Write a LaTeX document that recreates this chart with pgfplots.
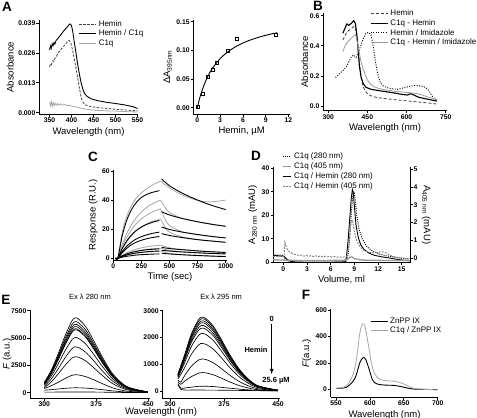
\documentclass[border=0pt]{standalone}
\usepackage{pgfplots}
\pgfplotsset{compat=1.18}
\usepackage{fontspec}
\setmainfont{Liberation Sans}
\pgfplotsset{
 pan/.style={scale only axis, axis x line*=bottom, axis y line*=left,
  axis line style={line width=0.8pt,-}, tick align=outside, major tick length=2.5pt,
  every tick/.style={black,line width=0.7pt},
  ticklabel style={font=\fontsize{6.8}{7}\selectfont\bfseries, inner sep=1pt},
  label style={font=\fontsize{9.5}{10}\selectfont},
  /pgf/number format/assume math mode=true, scaled ticks=false,
  /pgf/number format/1000 sep={},
  legend style={draw=none, fill=none, font=\fontsize{8}{9}\selectfont, inner sep=0pt, row sep=-1.5pt},
  legend cell align=left},
 blk/.style={black, line width=0.9pt},
 gry/.style={black!35, line width=0.8pt},
 emis/.style={every axis plot post/.append style={black, solid, mark=none, line width=0.65pt, smooth}},
}
\begin{document}
\begin{tikzpicture}
\useasboundingbox (0,0) rectangle (477pt,-418pt);
% ---------------- A left
\begin{axis}[pan, at={(39pt,-114.3pt)}, anchor=south west, width=99pt, height=94.3pt,
 xmin=326, xmax=551, ymin=-0.0007, ymax=0.0403,
 xtick={350,400,450,500,550}, xticklabels={350,400,450,500,550},
 ytick={0,0.013,0.026,0.039}, yticklabels={0.000,0.013,0.026,0.039},
 xlabel={Wavelength (nm)}, ylabel={Absorbance},
 legend style={at={(0.40,1.02)}, anchor=north west}]
\addplot[black!75, line width=0.8pt, dash pattern=on 2.5pt off 1.5pt] coordinates {
(350,0.0200)(352,0.0212)(354,0.0208)(357,0.0226)(360,0.0222)(363,0.0240)(366,0.0246)(370,0.0262)(375,0.0272)(380,0.0285)(385,0.0295)(390,0.0308)(394,0.0315)(398,0.0305)(402,0.0275)(406,0.0235)(410,0.0195)(414,0.0150)(418,0.0105)(422,0.0065)(426,0.0045)(430,0.0035)(440,0.0028)(460,0.0022)(500,0.0015)(550,0.0008)};
\addlegendentry{Hemin}
\addplot[blk] coordinates {
(350,0.0272)(352,0.0290)(354,0.0280)(356,0.0300)(358,0.0292)(360,0.0305)(362,0.0298)(365,0.0315)(368,0.0320)(372,0.0330)(376,0.0340)(380,0.0350)(385,0.0362)(390,0.0372)(394,0.0382)(397,0.0386)(400,0.0378)(403,0.0350)(406,0.0310)(410,0.0260)(414,0.0210)(418,0.0165)(422,0.0128)(426,0.0100)(430,0.0082)(436,0.0070)(445,0.0060)(460,0.0052)(480,0.0045)(500,0.0040)(520,0.0034)(540,0.0026)(550,0.0018)};
\addlegendentry{Hemin / C1q}
\addplot[gry] coordinates {
(350,0.0045)(352,0.0030)(354,0.0048)(356,0.0028)(358,0.0044)(360,0.0030)(362,0.0042)(365,0.0032)(368,0.0040)(371,0.0033)(375,0.0038)(380,0.0033)(385,0.0035)(390,0.0031)(395,0.0032)(400,0.0029)(410,0.0025)(420,0.0020)(430,0.0016)(440,0.0013)(460,0.0010)(480,0.0008)(500,0.0007)(520,0.0005)(550,0.0003)};
\addlegendentry{C1q}
\end{axis}
% ---------------- A right
\begin{axis}[pan, at={(193.3pt,-114pt)}, anchor=south west, width=96.7pt, height=94pt,
 xmin=-0.53, xmax=12.2, ymin=-0.011, ymax=0.153,
 xtick={0,3,6,9,12}, xticklabels={0,3,6,9,12},
 ytick={0,0.05,0.1,0.15}, yticklabels={0.00,0.05,0.10,0.15},
 xlabel={Hemin, µM}, ylabel={ΔA\textsubscript{395nm}}]
\addplot[blk, smooth] coordinates {(0,0)(0.25,0.0135)(0.5,0.0250)(1,0.0435)(1.5,0.0577)(2,0.0689)(3,0.0856)(4,0.0973)(5,0.1061)(6,0.1129)(7,0.1182)(8,0.1226)(9,0.1263)(10,0.1294)(10.5,0.1307)};
\addplot[only marks, mark=square, mark size=1.5pt, mark options={black, fill=white, line width=0.6pt}] coordinates {
(0,0.001)(0.66,0.024)(1.32,0.054)(2.03,0.066)(2.6,0.078)(4.0,0.100)(5.2,0.120)(10.3,0.127)};
\end{axis}
% ---------------- B
\begin{axis}[pan, at={(323pt,-110.7pt)}, anchor=south west, width=124pt, height=97.4pt,
 xmin=280, xmax=755, ymin=-0.031, ymax=0.616,
 xtick={300,450,600,750}, xticklabels={300,450,600,750},
 ytick={0,0.2,0.4,0.6}, yticklabels={0.0,0.2,0.4,0.6},
 xlabel={Wavelength (nm)}, ylabel={Absorbance}, ylabel shift=-3pt,
 legend style={at={(0.38,1.06)}, anchor=north west}]
\addplot[black!75, line width=0.8pt, dash pattern=on 3pt off 2pt, smooth] coordinates {
(356,0.438)(369,0.483)(381,0.505)(394,0.522)(402,0.527)(409,0.460)(417,0.328)(426,0.195)(435,0.124)(451,0.080)(483,0.058)(546,0.044)(609,0.033)(673,0.022)(717,0.013)};
\addlegendentry{Hemin}
\addplot[black, line width=1.1pt] coordinates {
(356,0.483)(364,0.516)(371,0.545)(379,0.536)(388,0.549)(398,0.567)(404,0.549)(409,0.483)(414,0.394)(419,0.272)(426,0.190)(435,0.146)(445,0.124)(464,0.111)(495,0.102)(546,0.089)(584,0.077)(603,0.073)(616,0.082)(628,0.073)(647,0.058)(685,0.044)(717,0.033)};
\addlegendentry{C1q - Hemin}
\addplot[black, line width=0.9pt, dash pattern=on 1pt off 1.5pt] coordinates {
(328,0.190)(343,0.213)(356,0.235)(369,0.261)(379,0.295)(388,0.323)(397,0.339)(407,0.323)(419,0.372)(432,0.438)(444,0.483)(455,0.489)(464,0.472)(473,0.394)(480,0.306)(489,0.217)(498,0.162)(511,0.133)(534,0.117)(565,0.111)(597,0.124)(616,0.133)(635,0.137)(654,0.133)(673,0.124)(686,0.102)(701,0.058)(717,0.035)};
\addlegendentry{Hemin / Imidazole}
\addplot[black!40, line width=0.8pt, smooth] coordinates {
(356,0.361)(366,0.405)(375,0.427)(388,0.449)(397,0.465)(404,0.472)(410,0.438)(417,0.372)(426,0.294)(435,0.239)(445,0.195)(457,0.155)(476,0.128)(508,0.111)(559,0.097)(609,0.089)(647,0.080)(685,0.058)(717,0.044)};
\addlegendentry{C1q - Hemin / Imidazole}
\end{axis}
% ---------------- C
\begin{axis}[pan, at={(113.3pt,-260pt)}, anchor=south west, width=113.4pt, height=90pt,
 xmin=0, xmax=1009, ymin=-1.17, ymax=60.7,
 xtick={0,250,500,750,1000}, xticklabels={0,250,500,750,1000},
 ytick={0,20,40,60}, yticklabels={0,20,40,60},
 xlabel={Time (sec)}, ylabel={Response (R.U.)}]
% gray fits
\addplot[gry, smooth] coordinates {(20,0)(40,0)(80,18)(120,29)(160,36)(200,41)(250,45)(300,48)(350,50.5)(420,53)};
\addplot[gry, smooth] coordinates {(420,53)(500,48.5)(600,44)(700,41)(800,39)(900,39)(1000,40)};
\addplot[gry, smooth] coordinates {(20,0)(40,0)(80,9.5)(120,17)(160,22.8)(200,27.5)(250,31.9)(300,35.2)(350,37.6)(420,40)};
\addplot[gry, smooth] coordinates {(420,40)(460,35)(500,31.5)(600,27.8)(700,26)(800,24.4)(900,23.1)(1000,22)};
\addplot[gry, smooth] coordinates {(20,0)(40,0)(80,8.1)(120,14.4)(160,19.4)(200,23.4)(250,27.1)(300,29.9)(350,32)(420,34)};
\addplot[gry, smooth] coordinates {(420,34)(460,27)(500,22.5)(600,18.6)(700,17)(800,15.8)(900,14.9)(1000,14.1)};
\addplot[gry, smooth] coordinates {(20,0)(40,0)(80,6.4)(120,11.4)(160,15.4)(200,18.5)(250,21.5)(300,23.8)(350,25.4)(420,27)};
\addplot[gry, smooth] coordinates {(420,27)(460,21.5)(500,18)(600,15)(700,13.5)(800,12.5)(900,11.7)(1000,11)};
\addplot[gry, smooth] coordinates {(20,0)(40,0)(80,2.1)(120,3.8)(160,5.1)(200,6.2)(250,7.2)(300,7.9)(350,8.5)(420,9)};
\addplot[gry, smooth] coordinates {(420,9)(500,7.2)(600,6.1)(700,5.4)(800,4.9)(900,4.4)(1000,4)};
\addplot[gry, smooth] coordinates {(20,0)(40,0)(80,1.7)(120,3.0)(160,4.0)(200,4.8)(250,5.6)(300,6.2)(350,6.6)(420,7)};
\addplot[gry, smooth] coordinates {(420,7)(500,5.4)(600,4.6)(700,4.0)(800,3.6)(900,3.3)(1000,3)};
\addplot[gry, smooth] coordinates {(20,0)(40,0)(80,1.2)(120,2.1)(160,2.9)(200,3.4)(250,4.0)(300,4.4)(350,4.7)(420,5)};
\addplot[gry, smooth] coordinates {(420,5)(500,3.4)(600,2.6)(700,2.1)(800,1.8)(900,1.5)(1000,1.2)};
% black data
\addplot[blk, smooth] coordinates {(20,0)(40,0)(80,15.7)(120,26.2)(160,33.2)(200,37.9)(250,41.8)(300,44.0)(350,45.4)(410,46.5)};
\addplot[blk, smooth] coordinates {(430,54.5)(500,49.9)(600,45.3)(700,41.7)(800,38.5)(900,35.8)(1000,33.5)};
\addplot[blk, smooth] coordinates {(20,0)(40,0)(80,6.8)(120,12.0)(160,15.9)(200,18.9)(250,21.5)(300,23.4)(350,24.8)(410,26)};
\addplot[blk, smooth] coordinates {(430,32)(500,29.8)(600,27.6)(700,25.9)(800,24.4)(900,23.1)(1000,22)};
\addplot[blk, smooth] coordinates {(20,0)(40,0)(80,4.7)(120,8.3)(160,11.0)(200,13.1)(250,14.9)(300,16.2)(350,17.2)(410,18)};
\addplot[blk, smooth] coordinates {(430,21.5)(500,19.85)(600,18.2)(700,16.9)(800,15.8)(900,14.8)(1000,14)};
\addplot[blk, smooth] coordinates {(20,0)(40,0)(80,3.9)(120,6.9)(160,9.2)(200,10.9)(250,12.4)(300,13.5)(350,14.3)(410,15)};
\addplot[blk, smooth] coordinates {(430,17)(500,15.7)(600,14.4)(700,13.3)(800,12.4)(900,11.7)(1000,11)};
\addplot[blk, smooth] coordinates {(20,0)(40,0)(80,1.7)(120,3.0)(160,4.0)(200,4.7)(250,5.4)(300,5.9)(350,6.2)(410,6.5)};
\addplot[blk, smooth] coordinates {(430,7.5)(500,6.7)(600,6.0)(700,5.4)(800,4.8)(900,4.4)(1000,4)};
\addplot[blk, smooth] coordinates {(20,0)(40,0)(80,1.3)(120,2.3)(160,3.1)(200,3.6)(250,4.1)(300,4.5)(350,4.8)(410,5)};
\addplot[blk, smooth] coordinates {(430,5.5)(500,5.0)(600,4.4)(700,4.0)(800,3.6)(900,3.3)(1000,3)};
\addplot[blk, smooth] coordinates {(20,0)(40,0)(80,0.8)(120,1.4)(160,1.8)(200,2.2)(250,2.5)(300,2.7)(350,2.9)(410,3)};
\addplot[blk, smooth] coordinates {(430,3.5)(500,3.0)(600,2.5)(700,2.1)(800,1.75)(900,1.45)(1000,1.2)};
\end{axis}
% ---------------- D left (280 nm)
\begin{axis}[pan, at={(273pt,-262.7pt)}, anchor=south west, width=137pt, height=96pt,
 xmin=-1.31, xmax=16.05, ymin=-0.17, ymax=40.68,
 xtick={0,3,6,9,12,15}, xticklabels={0,3,6,9,12,15},
 ytick={0,10,20,30,40}, yticklabels={0,10,20,30,40},
 xlabel={Volume, ml}, ylabel={A\textsubscript{280 nm} (mAU)}]
\addplot[black, line width=0.9pt, dash pattern=on 1pt off 1.2pt] coordinates {
(-1.3,3.2)(-0.8,3.0)(-0.3,3.1)(0,2.9)(0.3,1.0)(0.8,0.3)(2,0.1)(7.8,0.1)(8.2,3)(8.4,10)(8.6,20)(8.8,28)(8.95,30)(9.1,27)(9.3,20)(9.6,14)(10,10)(10.5,7)(11,5.5)(11.5,4.5)(12.2,3.5)(13,2.8)(14,2.2)(15,1.7)(16,1.3)};
\addplot[black, line width=0.9pt] coordinates {
(-1.3,2.8)(-1,3.0)(-0.5,2.7)(0,2.6)(0.2,2.2)(0.5,1.2)(1,0.4)(1.5,0.1)(3,0)(6,0)(7.9,0.2)(8.0,2.5)(8.2,9)(8.4,18)(8.6,27)(8.75,31)(8.85,30)(9.0,24)(9.2,16)(9.5,10.5)(9.8,7.5)(10.2,5.5)(10.8,4)(11.5,3)(12.5,2.3)(13.5,1.8)(14.5,1.2)(15.5,0.8)(16,0.6)};
\end{axis}
% ---------------- D right (405 nm)
\begin{axis}[pan, at={(273pt,-262.7pt)}, anchor=south west, width=137pt, height=96pt,
 axis y line*=right, axis x line=none,
 xmin=-1.31, xmax=16.05, ymin=-0.246, ymax=5.129,
 ytick={0,1,2,3,4,5}, yticklabels={0,1,2,3,4,5},
 ylabel={A\textsubscript{405 nm} (mAU)}, ylabel style={rotate=180},
 legend image code/.code={\draw[#1] (0cm,0cm) -- (0.3cm,0cm);},
 legend style={at={(0.066,1.165)}, anchor=north west}]
\addlegendimage{black, line width=0.9pt, dash pattern=on 1pt off 1.2pt}
\addlegendentry{C1q (280 nm)}
\addplot[black!40, line width=1.3pt] coordinates {
(-1.3,-0.08)(0,-0.1)(2,-0.12)(6,-0.12)(8,-0.1)(8.4,0.05)(8.7,0.08)(9,-0.02)(10,-0.1)(13,-0.12)(16,-0.12)};
\addlegendentry{C1q (405 nm)}
\addlegendimage{black, line width=0.9pt}
\addlegendentry{C1q / Hemin (280 nm)}
\addplot[black!50, line width=0.9pt, dash pattern=on 2pt off 1.2pt] coordinates {
(-1.3,0.12)(-1.1,0.09)(-0.9,0.13)(-0.7,0.08)(-0.5,0.11)(-0.3,0.07)(-0.1,0.10)(0.1,0.12)(0.2,0.9)(0.3,0.75)(0.5,0.5)(0.8,0.35)(1.1,0.28)(1.4,0.22)(1.7,0.2)(2.0,0.15)(2.3,0.18)(2.6,0.12)(2.9,0.16)(3.2,0.11)(3.5,0.15)(3.8,0.1)(4.1,0.14)(4.4,0.09)(4.7,0.13)(5.0,0.08)(5.3,0.12)(5.6,0.08)(5.9,0.11)(6.2,0.07)(6.5,0.1)(6.8,0.06)(7.1,0.09)(7.4,0.05)(7.7,0.08)(8.0,0.1)(8.2,0.4)(8.4,1.2)(8.55,1.9)(8.7,2.15)(8.85,1.9)(9.0,1.5)(9.2,1.1)(9.5,0.8)(9.8,0.6)(10.2,0.45)(10.8,0.35)(11.5,0.3)(12.0,0.33)(12.5,0.37)(12.9,0.33)(13.3,0.22)(13.8,0.12)(14.5,0.05)(15,0.02)(15.5,0.0)(16,-0.02)};
\addlegendentry{C1q / Hemin (405 nm)}
\end{axis}
% ---------------- E1
\begin{axis}[pan, emis, at={(30pt,-398.3pt)}, anchor=south west, width=120pt, height=88.3pt,
 xmin=279.2, xmax=453, ymin=-512, ymax=7564,
 xtick={300,375,450}, xticklabels={300,375,450},
 ytick={0,2500,5000,7500}, yticklabels={0,2500,5000,7500},
 ylabel={\textit{F} (a.u.)}, ylabel shift=-5pt,
 title={Ex λ 280 nm}, title style={font=\fontsize{7.5}{8}\selectfont, yshift=1pt}]
\addplot coordinates {(300,959)(310,2055)(320,3562)(330,5206)(340,6576)(345,6850)(350,6713)(360,6028)(370,4932)(385,3151)(400,1644)(420,548)(450,69)};
\addplot coordinates {(300,910)(310,1950)(320,3380)(330,4940)(340,6240)(345,6500)(350,6370)(360,5720)(370,4680)(385,2990)(400,1560)(420,520)(450,65)};
\addplot coordinates {(300,875)(310,1875)(320,3250)(330,4750)(340,6000)(345,6250)(350,6125)(360,5500)(370,4500)(385,2875)(400,1500)(420,500)(450,63)};
\addplot coordinates {(300,847)(310,1815)(320,3146)(330,4598)(340,5808)(345,6050)(350,5929)(360,5324)(370,4356)(385,2783)(400,1452)(420,484)(450,61)};
\addplot coordinates {(300,819)(310,1755)(320,3042)(330,4446)(340,5616)(345,5850)(350,5733)(360,5148)(370,4212)(385,2691)(400,1404)(420,468)(450,59)};
\addplot coordinates {(300,805)(310,1725)(320,2990)(330,4370)(340,5520)(345,5750)(350,5635)(360,5060)(370,4140)(385,2645)(400,1380)(420,460)(450,58)};
\addplot coordinates {(300,707)(310,1515)(320,2626)(330,3838)(340,4848)(345,5050)(350,4949)(360,4444)(370,3636)(385,2323)(400,1212)(420,404)(450,51)};
\addplot coordinates {(300,588)(310,1260)(320,2184)(330,3192)(340,4032)(345,4200)(350,4116)(360,3696)(370,3024)(385,1932)(400,1008)(420,336)(450,42)};
\addplot coordinates {(300,462)(310,990)(320,1716)(330,2508)(340,3168)(345,3300)(350,3234)(360,2904)(370,2376)(385,1518)(400,792)(420,264)(450,33)};
\addplot coordinates {(300,380)(310,640)(320,950)(330,1300)(340,1590)(345,1650)(350,1620)(360,1470)(370,1220)(385,800)(400,420)(420,140)(450,20)};
\addplot coordinates {(300,230)(310,280)(320,340)(330,400)(340,440)(345,450)(350,445)(360,420)(370,370)(385,270)(400,160)(420,60)(450,10)};
\addplot coordinates {(300,50)(310,55)(320,60)(330,65)(340,70)(345,70)(350,70)(360,65)(370,60)(385,50)(400,35)(420,20)(450,5)};
\end{axis}
% ---------------- E2
\begin{axis}[pan, emis, at={(162.3pt,-398.3pt)}, anchor=south west, width=117.7pt, height=88.3pt,
 xmin=289.3, xmax=452.8, ymin=-273, ymax=3026,
 xtick={300,375,450}, xticklabels={300,375,450},
 ytick={0,1000,2000,3000}, yticklabels={0,1000,2000,3000},
 title={Ex λ 295 nm}, title style={font=\fontsize{7.5}{8}\selectfont, yshift=1pt}]
\addplot coordinates {(311,635)(320,1325)(330,2153)(340,2677)(345,2760)(350,2705)(360,2429)(370,1987)(385,1270)(400,690)(420,221)(450,28)};
\addplot coordinates {(311,621)(320,1296)(330,2106)(340,2619)(345,2700)(350,2646)(360,2376)(370,1944)(385,1242)(400,675)(420,216)(450,27)};
\addplot coordinates {(311,603)(320,1258)(330,2044)(340,2541)(345,2620)(350,2568)(360,2306)(370,1886)(385,1205)(400,655)(420,210)(450,26)};
\addplot coordinates {(311,587)(320,1224)(330,1989)(340,2474)(345,2550)(350,2499)(360,2244)(370,1836)(385,1173)(400,638)(420,204)(450,26)};
\addplot coordinates {(311,564)(320,1176)(330,1911)(340,2377)(345,2450)(350,2401)(360,2156)(370,1764)(385,1127)(400,613)(420,196)(450,25)};
\addplot coordinates {(311,541)(320,1128)(330,1833)(340,2280)(345,2350)(350,2303)(360,2068)(370,1692)(385,1081)(400,588)(420,188)(450,24)};
\addplot coordinates {(311,495)(320,1032)(330,1677)(340,2086)(345,2150)(350,2107)(360,1892)(370,1548)(385,989)(400,538)(420,172)(450,22)};
\addplot coordinates {(311,450)(320,854)(330,1388)(340,1727)(345,1780)(350,1744)(360,1566)(370,1282)(385,819)(400,445)(420,142)(450,18)};
\addplot coordinates {(311,400)(315,330)(320,560)(330,936)(340,1164)(345,1200)(350,1176)(360,1056)(370,864)(385,552)(400,300)(420,96)(450,12)};
\addplot coordinates {(311,330)(315,250)(320,360)(330,540)(340,670)(345,690)(350,676)(360,607)(370,497)(385,317)(400,172)(420,55)(450,7)};
\addplot coordinates {(311,270)(315,110)(320,110)(330,145)(340,175)(345,180)(350,178)(360,165)(370,140)(385,100)(400,60)(420,25)(450,5)};
\addplot coordinates {(311,240)(315,60)(320,35)(330,35)(345,35)(370,30)(400,20)(450,5)};
\end{axis}
% ---------------- F
\begin{axis}[pan, at={(330.7pt,-397.3pt)}, anchor=south west, width=107.6pt, height=88pt,
 xmin=542.2, xmax=700.9, ymin=-60, ymax=605,
 xtick={550,600,650,700}, xticklabels={550,600,650,700},
 ytick={0,200,400,600}, yticklabels={0,200,400,600},
 xlabel={Wavelength (nm)}, ylabel={\textit{F}(a.u.)},
 legend style={at={(0.365,0.93)}, anchor=north west}]
\addplot[black, line width=0.9pt, smooth] coordinates {
(551,8)(565,15)(575,60)(580,110)(585,200)(590,240)(594,225)(599,150)(604,70)(610,42)(620,33)(635,30)(645,22)(655,10)(665,2)(680,0)(700,-2)};
\addlegendentry{ZnPP IX}
\addplot[black!35, line width=0.8pt, smooth] coordinates {
(551,10)(565,25)(575,110)(580,220)(585,420)(589,495)(593,470)(598,330)(603,180)(608,110)(615,75)(625,65)(635,62)(642,55)(650,40)(658,20)(665,8)(680,0)(700,-3)};
\addlegendentry{C1q / ZnPP IX}
\end{axis}
% ---------------- annotations
\node[font=\fontsize{7.5}{8}\selectfont\bfseries] at (271.7pt,-319pt) {0};
\draw[-latex, line width=0.8pt] (271.7pt,-324pt) -- (271.7pt,-374pt);
\node[font=\fontsize{7.5}{8}\selectfont\bfseries] at (256pt,-350pt) {Hemin};
\node[font=\fontsize{7.5}{8}\selectfont\bfseries] at (276pt,-381pt) {25.6 µM};
\node[font=\fontsize{9.5}{10}\selectfont] at (161pt,-412.5pt) {Wavelength (nm)};
% panel letters
\foreach \l/\x/\y in {A/7/7, B/318/6, C/93/157, D/256/156, E/6/300, F/306/295}
  \node[font=\fontsize{13.5}{14}\selectfont\bfseries] at (\x pt,-\y pt) {\l};
\end{tikzpicture}
\end{document}
